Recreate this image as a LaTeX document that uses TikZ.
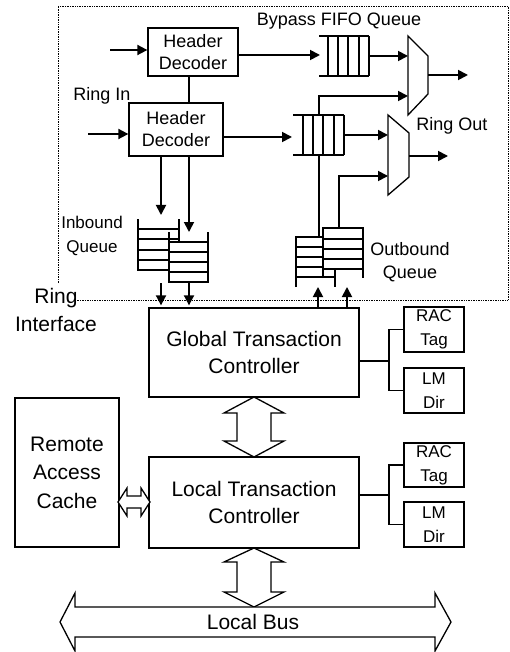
\documentclass[tikz,border=0pt]{standalone}
\usepackage{fontspec}
\setmainfont{Liberation Sans}
\usetikzlibrary{arrows.meta}
\begin{document}
\begin{tikzpicture}[x=1pt,y=-1pt,
  box/.style={draw,line width=1.3pt,inner sep=0pt,align=center,fill=white},
  conn/.style={line width=1.6pt},
  arr/.style={line width=1.8pt,-{Triangle[length=10pt,width=10pt]}},
  qline/.style={line width=1.3pt},
  hollow/.style={draw,line width=1.3pt,fill=white,line join=miter},
  frameline/.style={densely dotted,line width=0.7pt},
  lbl/.style={inner sep=0pt,align=center},
  fs/.style={font=\fontsize{18}{22}\selectfont},
  fb/.style={font=\fontsize{21}{27}\selectfont},
  fsm/.style={font=\fontsize{17}{24}\selectfont}]
\useasboundingbox (0,0) rectangle (510,652);

% ring interface frame
\draw[frameline] (58,283) -- (58,6) -- (508,6) -- (508,300) -- (74,300);

% header decoders
\node[box,fs,minimum width=90pt,minimum height=48pt] (hd1) at (193,52) {Header\\Decoder};
\node[box,fs,minimum width=94pt,minimum height=53pt] (hd2) at (176,129.5) {Header\\Decoder};
\coordinate (in1) at (110,50);
\coordinate (in2) at (88,134);
\draw[arr] (in1) -- (in1 -| hd1.west);
\draw[arr] (in2) -- (in2 -| hd2.west);
\coordinate (xb) at (189,0);
\draw[conn] (hd1.south -| xb) -- (hd2.north -| xb);

% bypass FIFO
\draw[qline] (319,36) -- (369,36) (319,76) -- (369,76);
\foreach \x in {328,338,348,359,369} \draw[qline] (\x,36) -- (\x,76);
\coordinate (bfin) at (320,55);
\draw[arr] (hd1.east |- bfin) -- (bfin);

% main FIFO
\draw[qline] (293,115) -- (344,115) (293,155) -- (344,155);
\foreach \x in {303,313,323,334,344} \draw[qline] (\x,115) -- (\x,155);
\coordinate (mfin) at (292,137);
\draw[arr] (hd2.east |- mfin) -- (mfin);

% muxes
\draw[qline] (408,36) -- (428,56) -- (428,94) -- (408,115) -- cycle;
\draw[qline] (388,115) -- (409,133) -- (409,177) -- (388,195) -- cycle;
\coordinate (m1a) at (408,56);
\coordinate (m1b) at (408,96);
\coordinate (m1o) at (428,75);
\coordinate (m2a) at (388,135);
\coordinate (m2b) at (388,176);
\coordinate (m2o) at (409,156);
\coordinate (ro1) at (468,75);
\coordinate (ro2) at (448,156);
\draw[arr] (369,56) -- (m1a);
\draw[arr] (319,115) -- (319,96) -- (m1b);
\draw[arr] (m1o) -- (ro1);
\draw[arr] (344,135) -- (m2a);
\draw[arr] (339,228) -- (339,176) -- (m2b);
\draw[arr] (m2o) -- (ro2);
\draw[conn] (319,237) -- (319,155);

% inbound queues
\draw[qline] (138,219) -- (138,270) -- (179,270) -- (179,219);
\foreach \y in {229,239,250,260} \draw[qline] (138,\y) -- (179,\y);
\fill[white] (169,242) rectangle (208,282);
\draw[qline] (169,232) -- (169,282) -- (208,282) -- (208,232);
\foreach \y in {242,252,262,272} \draw[qline] (169,\y) -- (208,\y);
\coordinate (iq1in) at (161,215);
\coordinate (iq2in) at (189,232);
\draw[arr] (hd2.south -| iq1in) -- (iq1in);
\draw[arr] (hd2.south -| iq2in) -- (iq2in);

% outbound queues
\draw[qline] (296,287) -- (296,237) -- (335,237) -- (335,287);
\foreach \y in {247,257,267,277} \draw[qline] (296,\y) -- (335,\y);
\fill[white] (323,228) rectangle (363,269);
\draw[qline] (323,278) -- (323,228) -- (363,228) -- (363,278);
\foreach \y in {239,249,259,269} \draw[qline] (323,\y) -- (363,\y);

% labels
\node[lbl,fs] (lbyp) at (339,21) {Bypass FIFO Queue};
\node[lbl,fs] (lrin) at (102,96) {Ring In};
\node[lbl,fs] (lrout) at (452,126) {Ring Out};
\node[lbl,fsm] (linb) at (92,236) {Inbound\\Queue};
\node[lbl,font=\fontsize{18}{23}\selectfont] (lout) at (410,262) {Outbound\\Queue};
\node[lbl,font=\fontsize{21}{28}\selectfont] (lri) at (56,310) {Ring\\Interface};

% controllers
\node[box,fb,minimum width=210pt,minimum height=89pt] (gtc) at (254,352.5) {Global Transaction\\Controller};
\node[box,fb,minimum width=210pt,minimum height=91pt] (ltc) at (254,502.5) {Local Transaction\\Controller};
\node[box,font=\fontsize{21}{28.5}\selectfont,minimum width=104pt,minimum height=149pt] (rac) at (67,472.5) {Remote\\Access\\Cache};

% tag / dir boxes
\node[box,fsm,minimum width=60pt,minimum height=45pt] (t1) at (434,329.5) {RAC\\Tag};
\node[box,fsm,minimum width=60pt,minimum height=45pt] (d1) at (434,390.5) {LM\\Dir};
\node[box,fsm,minimum width=60pt,minimum height=44pt] (t2) at (434,465) {RAC\\Tag};
\node[box,fsm,minimum width=60pt,minimum height=45pt] (d2) at (434,524.5) {LM\\Dir};
\coordinate (j1) at (389,361);
\coordinate (j2) at (389,495);
\draw[qline] (gtc.east |- j1) -- (j1);
\draw[qline] (t1.west) -| (j1) |- (d1.west);
\draw[qline] (ltc.east |- j2) -- (j2);
\draw[qline] (t2.west) -| (j2) |- (d2.west);

% ring interface arrows
\coordinate (iq1out) at (161,283);
\coordinate (iq2out) at (189,283);
\draw[arr,shorten >=2pt] (iq1out) -- (iq1out |- gtc.north);
\draw[arr,shorten >=2pt] (iq2out) -- (iq2out |- gtc.north);
\coordinate (oq1out) at (318,287);
\coordinate (oq2out) at (347,287);
\draw[arr] (gtc.north -| oq1out) -- (oq1out);
\draw[arr] (gtc.north -| oq2out) -- (oq2out);

% hollow double arrows
\draw[hollow] (254,397) -- (284,413) -- (271,413) -- (271,441) -- (284,441) -- (254,457)
  -- (224,441) -- (237,441) -- (237,413) -- (224,413) -- cycle;
\draw[hollow] (254,548) -- (284,562) -- (271,562) -- (271,592) -- (284,592) -- (254,607)
  -- (224,592) -- (237,592) -- (237,562) -- (224,562) -- cycle;
\draw[hollow] (118,502) -- (127,488) -- (127,496) -- (141,496) -- (141,488) -- (150,502)
  -- (141,516) -- (141,508) -- (127,508) -- (127,516) -- cycle;
\draw[hollow] (60,622) -- (75,593) -- (75,607) -- (435,607) -- (435,593) -- (451,622)
  -- (435,651) -- (435,637) -- (75,637) -- (75,651) -- cycle;
\node[lbl,fb] (lbus) at (253,622) {Local Bus};
\end{tikzpicture}
\end{document}
